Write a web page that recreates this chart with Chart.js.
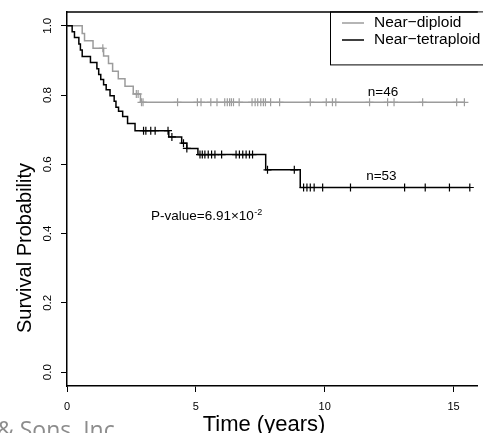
<!DOCTYPE html>
<html>
<head>
<meta charset="utf-8">
<script src="https://cdn.jsdelivr.net/npm/chart.js@4.4.1/dist/chart.umd.min.js"></script>
<style>
  html, body { margin: 0; padding: 0; background: #fff; overflow: hidden; }
</style>
</head>
<body>
<canvas id="km" width="483" height="433"></canvas>
<script>
// Kaplan-Meier curves (time in years, survival probability)
const diploidTimes = [0, 0.59, 0.68, 1.01, 1.42, 1.61, 1.77, 1.99, 2.25, 2.57, 2.85, 15.42];
const diploidSurv  = [1, 0.978, 0.957, 0.935, 0.913, 0.891, 0.869, 0.847, 0.825, 0.803, 0.779, 0.779];
const diploidCensor = [1.39, 2.69, 2.76, 2.89, 2.95, 4.29, 5.06, 5.2, 5.58, 5.82, 6.12, 6.22, 6.31, 6.38,
  6.46, 6.68, 7.18, 7.3, 7.4, 7.52, 7.62, 7.7, 7.9, 8.25, 9.44, 10.06, 10.3, 10.43, 11.74, 12.44,
  12.69, 13.8, 15.12, 15.42];

const tetraTimes = [0, 0.20, 0.29, 0.46, 0.52, 0.59, 0.91, 1.16, 1.23, 1.31, 1.42, 1.52, 1.67, 1.83,
  1.90, 2.00, 2.16, 2.35, 2.64, 3.95, 4.45, 4.65, 5.08, 7.71, 9.05, 15.63];
const tetraSurv = [1, 0.983, 0.966, 0.947, 0.930, 0.911, 0.894, 0.876, 0.859, 0.845, 0.830, 0.815, 0.798,
  0.782, 0.765, 0.753, 0.738, 0.718, 0.697, 0.679, 0.661, 0.646, 0.628, 0.584, 0.533, 0.533];
const tetraCensor = [2.97, 3.06, 3.25, 3.42, 3.92, 4.07, 4.52, 4.65, 5.16, 5.25, 5.35, 5.48, 5.61, 5.74,
  6.0, 6.56, 6.69, 6.82, 6.95, 7.08, 7.2, 7.78, 8.82, 9.18, 9.31, 9.44, 9.59, 9.92, 11.0, 13.1, 13.9,
  14.84, 15.63];

const groupNames = ['Near\u2212diploid', 'Near\u2212tetraploid'];
const groupCounts = ['n=46', 'n=53'];
const xTicks = [0, 5, 10, 15];
const xTickLabels = ['0', '5', '10', '15'];
const yTicks = [0, 0.2, 0.4, 0.6, 0.8, 1.0];
const yTickLabels = ['0.0', '0.2', '0.4', '0.6', '0.8', '1.0'];

const GRAY = '#9c9c9c';
const FONT = '"Liberation Sans", Arial, sans-serif';

function toPoints(times, surv) {
  return times.map((t, i) => ({ x: t, y: surv[i] }));
}

// censored marks sit on the curve: look up the step value at that time
function censorPoints(censor, times, surv) {
  return censor.map(t => {
    let v = surv[0];
    for (let i = 0; i < times.length; i++) {
      if (times[i] <= t) v = surv[i];
    }
    return { x: t, y: v };
  });
}

const extras = {
  id: 'extras',
  afterDraw(chart) {
    const ctx = chart.ctx;
    const area = chart.chartArea;
    const xs = chart.scales.x;
    const ys = chart.scales.y;
    ctx.save();

    // top edge of the box
    ctx.strokeStyle = '#000';
    ctx.lineWidth = 1.5;
    ctx.beginPath();
    ctx.moveTo(area.left, area.top);
    ctx.lineTo(area.right, area.top);
    ctx.stroke();

    // legend
    ctx.lineWidth = 1;
    ctx.strokeRect(330.5, area.top, 170, 53);
    ctx.lineWidth = 1.5;
    ctx.strokeStyle = GRAY;
    ctx.beginPath(); ctx.moveTo(342, 23); ctx.lineTo(364, 23); ctx.stroke();
    ctx.strokeStyle = '#000';
    ctx.beginPath(); ctx.moveTo(342, 40); ctx.lineTo(364, 40); ctx.stroke();
    ctx.fillStyle = '#000';
    ctx.font = '15.5px ' + FONT;
    ctx.textAlign = 'left';
    ctx.textBaseline = 'middle';
    ctx.fillText(groupNames[0], 374, 23);
    ctx.fillText(groupNames[1], 374, 40);

    // group sizes
    ctx.font = '13.5px ' + FONT;
    ctx.textAlign = 'center';
    ctx.fillText(groupCounts[0], xs.getPixelForValue(12.26), ys.getPixelForValue(0.807));
    ctx.fillText(groupCounts[1], xs.getPixelForValue(12.2), ys.getPixelForValue(0.566));

    // p-value with superscript exponent
    ctx.textAlign = 'left';
    ctx.textBaseline = 'alphabetic';
    ctx.font = '13.5px ' + FONT;
    const px = xs.getPixelForValue(3.26);
    const py = ys.getPixelForValue(0.455) + 5;
    const main = 'P-value=6.91\u00d710';
    ctx.fillText(main, px, py);
    const w = ctx.measureText(main).width;
    ctx.font = '9px ' + FONT;
    ctx.fillText('-2', px + w + 0.5, py - 5);

    // axis titles
    ctx.font = '22px ' + FONT;
    ctx.textAlign = 'center';
    ctx.textBaseline = 'middle';
    ctx.fillText('Time (years)', 264, 425);
    ctx.font = '20px ' + FONT;
    ctx.save();
    ctx.translate(25, 248);
    ctx.rotate(-Math.PI / 2);
    ctx.fillText('Survival Probability', 0, 0);
    ctx.restore();

    // publisher credit, cut off at the bottom edge as in the source
    ctx.fillStyle = '#8c8c8c';
    ctx.font = '23px "Open Sans", sans-serif';
    ctx.textAlign = 'left';
    ctx.textBaseline = 'alphabetic';
    ctx.fillText('& Sons, Inc.', -3, 438);

    ctx.restore();
  }
};

const axisGrid = {
  display: true,
  drawOnChartArea: false,
  drawTicks: true,
  tickLength: 6,
  color: '#000',
  lineWidth: 1
};

new Chart(document.getElementById('km'), {
  type: 'scatter',
  data: {
    datasets: [
      {
        label: groupNames[1],
        data: toPoints(tetraTimes, tetraSurv),
        showLine: true,
        stepped: 'before',
        borderColor: '#000',
        borderWidth: 1.5,
        pointRadius: 0,
        fill: false
      },
      {
        label: groupNames[1] + ' censored',
        data: censorPoints(tetraCensor, tetraTimes, tetraSurv),
        showLine: false,
        pointStyle: 'cross',
        pointRadius: 4,
        borderColor: '#000',
        borderWidth: 1.2
      },
      {
        label: groupNames[0],
        data: toPoints(diploidTimes, diploidSurv),
        showLine: true,
        stepped: 'before',
        borderColor: GRAY,
        borderWidth: 1.5,
        pointRadius: 0,
        fill: false
      },
      {
        label: groupNames[0] + ' censored',
        data: censorPoints(diploidCensor, diploidTimes, diploidSurv),
        showLine: false,
        pointStyle: 'cross',
        pointRadius: 4,
        borderColor: GRAY,
        borderWidth: 1.2
      }
    ]
  },
  options: {
    responsive: false,
    animation: false,
    events: [],
    layout: { padding: { top: 10, left: 0, right: 0, bottom: 0 } },
    plugins: {
      legend: { display: false },
      tooltip: { enabled: false }
    },
    scales: {
      x: {
        type: 'linear',
        min: 0,
        max: 15.94,
        afterBuildTicks: s => { s.ticks = xTicks.map(v => ({ value: v })); },
        afterFit: s => { s.height = 47; },
        grid: axisGrid,
        border: { display: true, color: '#000', width: 1.5 },
        ticks: {
          color: '#000',
          font: { family: FONT, size: 11 },
          padding: 8,
          maxRotation: 0,
          autoSkip: false,
          callback: (v, i) => xTickLabels[i]
        }
      },
      y: {
        type: 'linear',
        min: -0.04,
        max: 1.04,
        afterBuildTicks: s => { s.ticks = yTicks.map(v => ({ value: v })); },
        afterFit: s => { s.width = 67; },
        grid: axisGrid,
        border: { display: true, color: '#000', width: 1.5 },
        ticks: {
          color: '#000',
          font: { family: FONT, size: 11.5 },
          minRotation: 90,
          maxRotation: 90,
          crossAlign: 'center',
          padding: 5,
          autoSkip: false,
          callback: (v, i) => yTickLabels[i]
        }
      }
    }
  },
  plugins: [extras]
});
</script>
</body>
</html>
